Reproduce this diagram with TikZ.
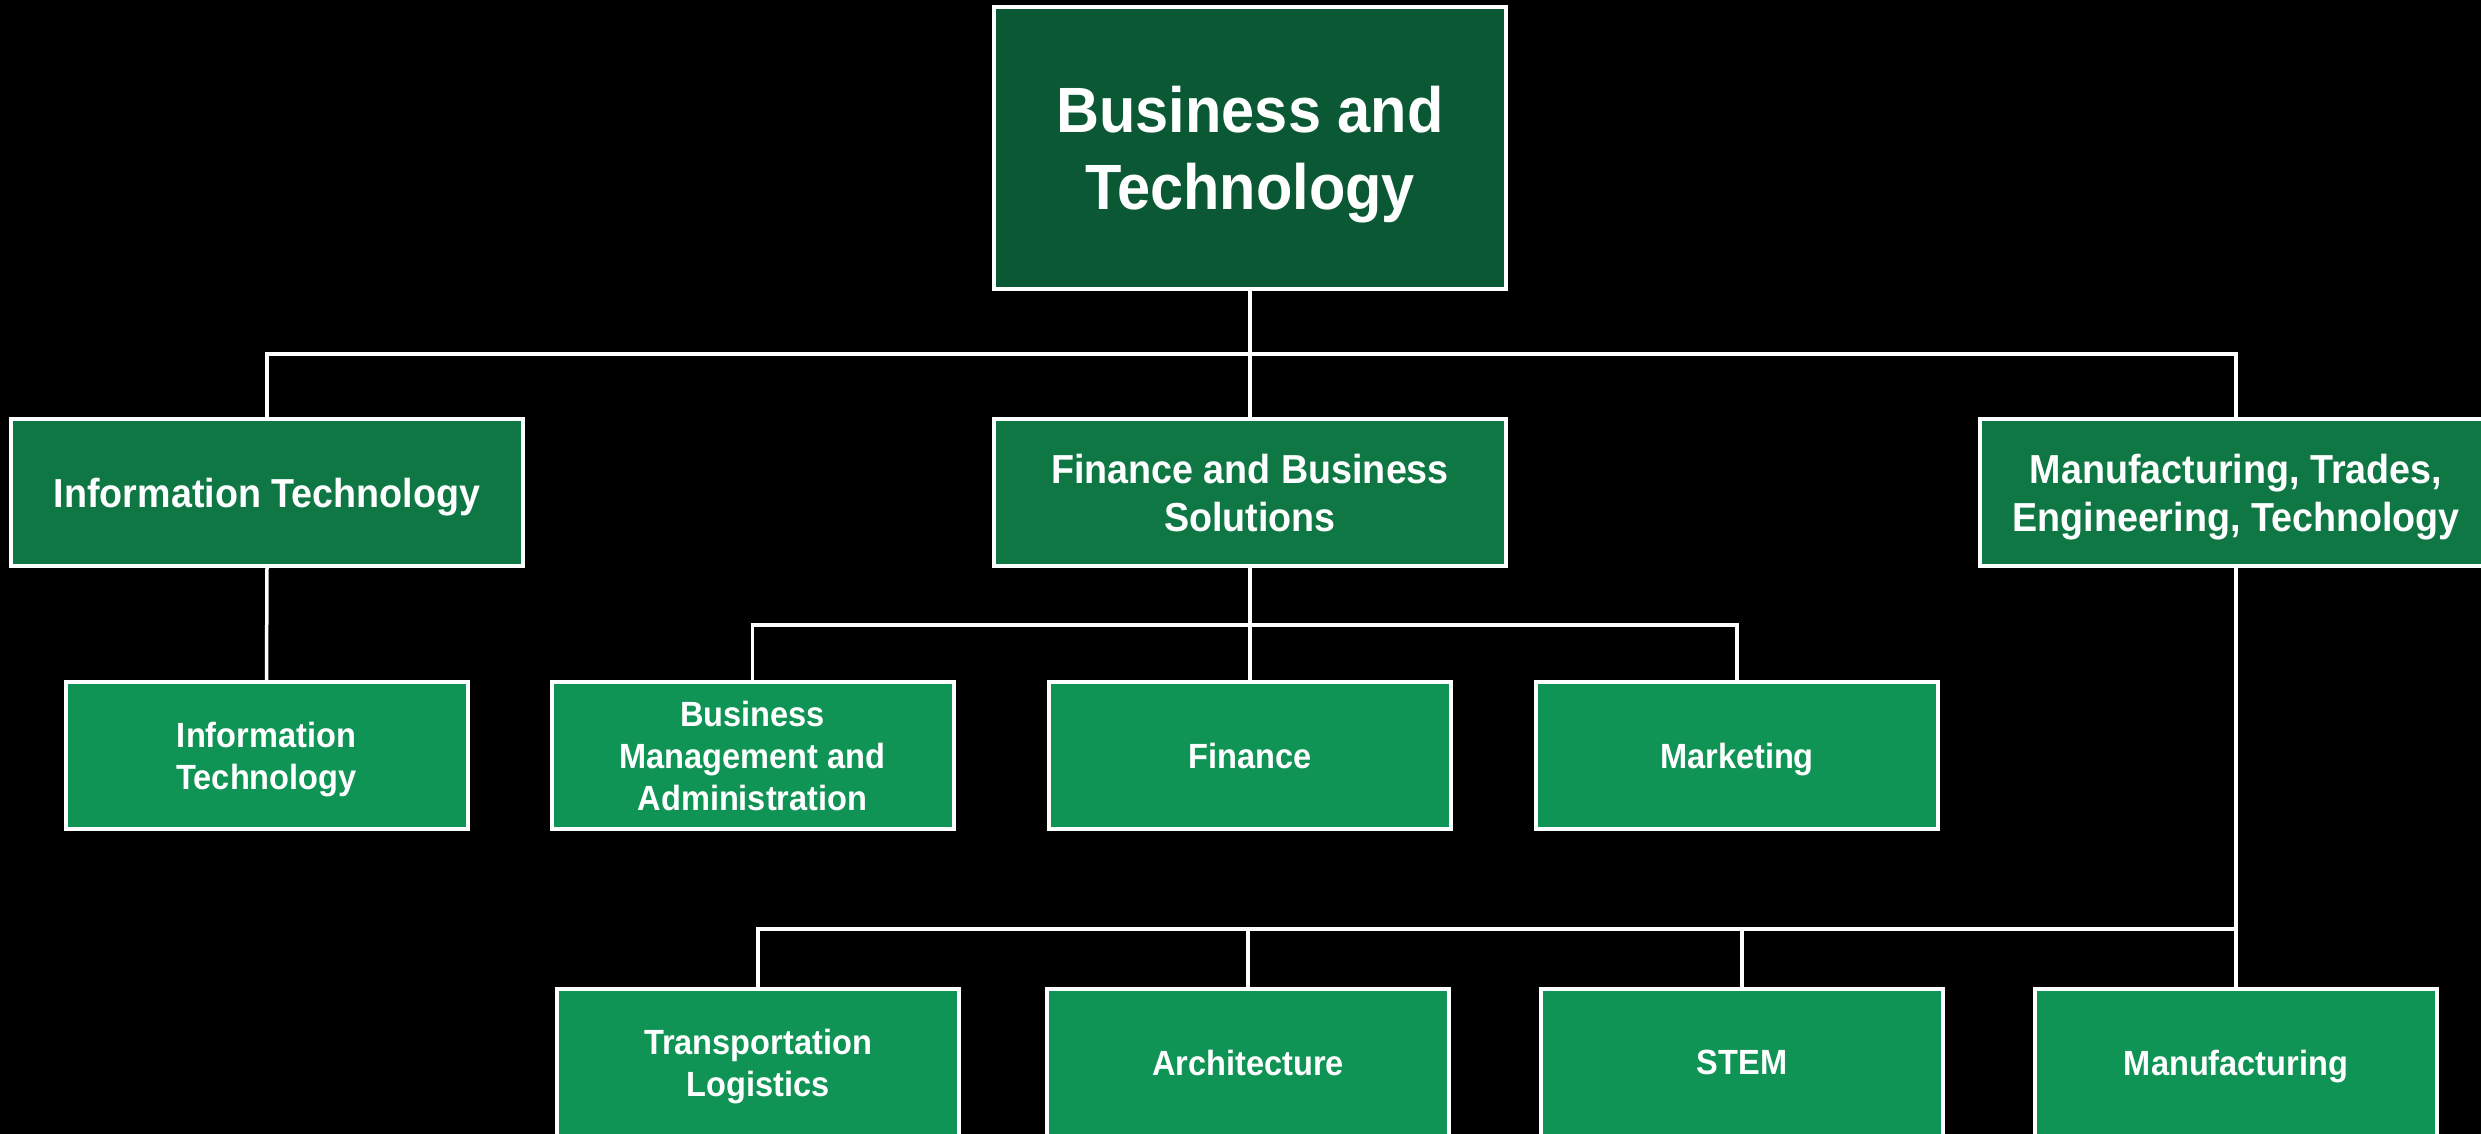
\documentclass[tikz,border=0pt]{standalone}
\usepackage{fontspec}
\setmainfont{Liberation Sans}[FakeStretch=0.93]
\definecolor{rootgreen}{RGB}{10,88,52}
\definecolor{midgreen}{RGB}{14,119,67}
\definecolor{lightgreen}{RGB}{16,148,85}
\tikzset{
  box/.style={draw=white, line width=4pt, align=center, text=white, inner sep=0pt, text depth=0pt, anchor=center},
  rootbox/.style={box, fill=rootgreen, minimum width=512pt, minimum height=282pt, font=\fontsize{64}{77}\selectfont\bfseries},
  lvlone/.style={box, fill=midgreen, minimum width=512pt, minimum height=147pt, font=\fontsize{40.5}{48}\selectfont\bfseries},
  lvltwo/.style={box, fill=lightgreen, minimum width=402pt, minimum height=147pt, font=\fontsize{35}{42}\selectfont\bfseries},
  link/.style={draw=white, line width=3.5pt}
}
\begin{document}
\begin{tikzpicture}[x=1pt,y=-1pt]
\fill[black] (0,0) rectangle (2481,1134);
\useasboundingbox (0,0) rectangle (2481,1134);

\node[rootbox] (root) at (1250,148) {Business and\\Technology};

\node[lvlone] (it1) at (267,492.5) {Information Technology};
\node[lvlone] (fin1) at (1250,492.5) {Finance and Business\\Solutions};
\node[lvlone] (mfg1) at (2236,492.5) {Manufacturing, Trades,\\Engineering, Technology};

\node[lvltwo] (it2) at (266.5,755.5) {Information\\Technology};
\node[lvltwo] (bma) at (752.5,755.5) {Business\\Management and\\Administration};
\node[lvltwo] (fin2) at (1250,755.5) {Finance};
\node[lvltwo] (mkt) at (1737,755.5) {Marketing};

\node[lvltwo] (trans) at (758,1062.5) {Transportation\\Logistics};
\node[lvltwo] (arch) at (1248,1062.5) {Architecture};
\node[lvltwo] (stem) at (1742,1062.5) {STEM};
\node[lvltwo] (mfg2) at (2236,1062.5) {Manufacturing};

\coordinate (j0) at (1250,354);
\coordinate (j1) at (1250,625);
\coordinate (j2) at (2236,929);

\draw[link] (root.south) -- (j0);
\draw[link] (j0) -| (it1.north);
\draw[link] (j0) -| (mfg1.north);
\draw[link] (j0) -- (fin1.north);

\draw[link] (it1.south) -- (it2.north);

\draw[link] (fin1.south) -- (j1);
\draw[link] (j1) -| (bma.north);
\draw[link] (j1) -| (mkt.north);
\draw[link] (j1) -- (fin2.north);

\draw[link] (mfg1.south) -- (mfg2.north);
\draw[link] (j2) -| (trans.north);
\draw[link] (j2) -| (arch.north);
\draw[link] (j2) -| (stem.north);
\end{tikzpicture}
\end{document}
